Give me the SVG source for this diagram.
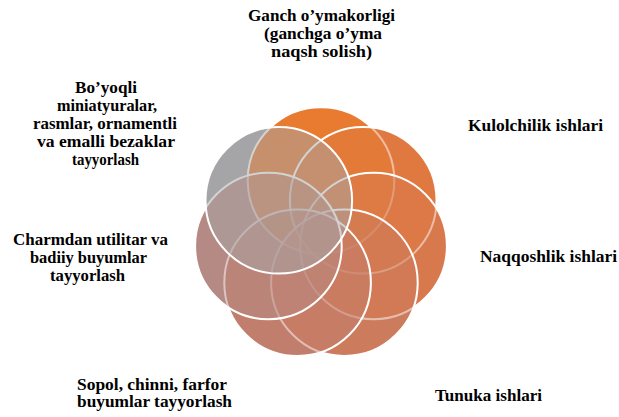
<svg xmlns="http://www.w3.org/2000/svg" width="619" height="417" viewBox="0 0 619 417">
<style>
.s{fill-opacity:0.5;stroke:#FFFFFF;stroke-width:2}
.t{font-family:'Liberation Serif','Times New Roman',serif;font-weight:700;font-size:16px;fill:#000000}
</style>
<rect width="619" height="417" fill="#FFFFFF"/>
<g id="ring-base">
<circle cx="278.8" cy="200.3" r="73.3" fill="#A5A5A7"/>
<circle cx="268.4" cy="246.0" r="73.3" fill="#B68A84"/>
<circle cx="297.6" cy="282.7" r="73.3" fill="#C17E6D"/>
<circle cx="344.4" cy="282.7" r="73.3" fill="#CC7B5D"/>
<circle cx="373.6" cy="246.0" r="73.3" fill="#D8794D"/>
<circle cx="363.2" cy="200.3" r="73.3" fill="#E0793F"/>
<circle cx="321" cy="180.5" r="73.3" fill="#E97B30"/>
</g>
<g id="n0"><circle class="s" cx="321" cy="180.5" r="73.3" fill="#E97B30"/></g>
<g id="n1"><circle class="s" cx="363.2" cy="200.3" r="73.3" fill="#E0793F"/></g>
<g id="n2"><circle class="s" cx="373.6" cy="246.0" r="73.3" fill="#D8794D"/></g>
<g id="n3"><circle class="s" cx="344.4" cy="282.7" r="73.3" fill="#CC7B5D"/></g>
<g id="n4"><circle class="s" cx="297.6" cy="282.7" r="73.3" fill="#C17E6D"/></g>
<g id="n5"><circle class="s" cx="268.4" cy="246.0" r="73.3" fill="#B68A84"/></g>
<g id="n6"><circle class="s" cx="278.8" cy="200.3" r="73.3" fill="#A5A5A7"/></g>
<g id="label-ganch">
<text class="t" x="248" y="21" textLength="147" lengthAdjust="spacingAndGlyphs">Ganch o’ymakorligi</text>
<text class="t" x="264" y="39" textLength="118" lengthAdjust="spacingAndGlyphs">(ganchga o’yma</text>
<text class="t" x="271" y="57" textLength="101" lengthAdjust="spacingAndGlyphs">naqsh solish)</text>
</g>
<g id="label-kulolchilik">
<text class="t" x="468" y="131" textLength="135" lengthAdjust="spacingAndGlyphs">Kulolchilik  ishlari</text>
</g>
<g id="label-naqqoshlik">
<text class="t" x="480" y="262" textLength="137" lengthAdjust="spacingAndGlyphs">Naqqoshlik ishlari</text>
</g>
<g id="label-tunuka">
<text class="t" x="435" y="401" textLength="107" lengthAdjust="spacingAndGlyphs">Tunuka ishlari</text>
</g>
<g id="label-sopol">
<text class="t" x="77" y="390" textLength="150" lengthAdjust="spacingAndGlyphs">Sopol, chinni,  farfor</text>
<text class="t" x="77" y="407" textLength="155" lengthAdjust="spacingAndGlyphs">buyumlar  tayyorlash</text>
</g>
<g id="label-charmdan">
<text class="t" x="13" y="245" textLength="155" lengthAdjust="spacingAndGlyphs">Charmdan utilitar  va</text>
<text class="t" x="30" y="263" textLength="117" lengthAdjust="spacingAndGlyphs">badiiy  buyumlar</text>
<text class="t" x="50" y="281" textLength="75" lengthAdjust="spacingAndGlyphs">tayyorlash</text>
</g>
<g id="label-boyoqli">
<text class="t" x="75" y="93" textLength="62" lengthAdjust="spacingAndGlyphs">Bo’yoqli</text>
<text class="t" x="57" y="111" textLength="100" lengthAdjust="spacingAndGlyphs">miniatyuralar,</text>
<text class="t" x="33" y="129" textLength="144" lengthAdjust="spacingAndGlyphs">rasmlar, ornamentli</text>
<text class="t" x="37" y="147" textLength="138" lengthAdjust="spacingAndGlyphs">va emalli  bezaklar</text>
<text class="t" x="72" y="165" textLength="67" lengthAdjust="spacingAndGlyphs">tayyorlash</text>
</g>
</svg>
